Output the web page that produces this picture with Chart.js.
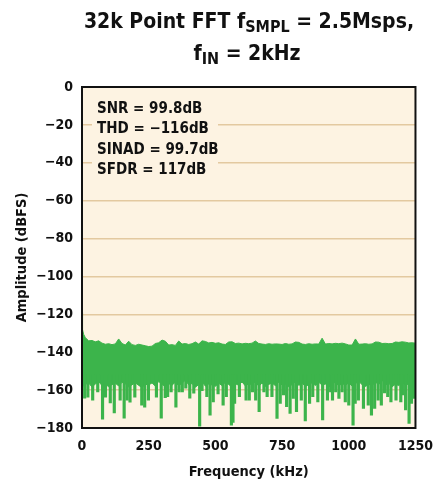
<!DOCTYPE html>
<html>
<head>
<meta charset="utf-8">
<script src="https://cdn.jsdelivr.net/npm/chart.js@4.4.1/dist/chart.umd.min.js"></script>
<style>
html,body{margin:0;padding:0;background:#fff;}
#wrap{width:444px;height:482px;position:relative;}
</style>
</head>
<body>
<div id="wrap"><canvas id="c" width="444" height="482"></canvas></div>
<script>
// ---- data ----
const titleLine1 = [{t:'32k Point FFT f'},{t:'SMPL',sub:true},{t:' = 2.5Msps,'}];
const titleLine2 = [{t:'f'},{t:'IN',sub:true},{t:' = 2kHz'}];
const xAxisTitle = 'Frequency (kHz)';
const yAxisTitle = 'Amplitude (dBFS)';
const statsLabels = ['SNR = 99.8dB', 'THD = \u2212116dB', 'SINAD = 99.7dB', 'SFDR = 117dB'];

const xTicks = [0, 250, 500, 750, 1000, 1250];
const yTicks = [0, -20, -40, -60, -80, -100, -120, -140, -160, -180];

// noise floor: frequency grid (kHz), upper envelope and lower solid edge (dBFS)
const gridFreq = [0, 1, 3, 6,
  12.5, 25, 37.5, 50, 62.5, 75, 87.5, 100, 112.5, 125,
  137.5, 150, 162.5, 175, 187.5, 200, 212.5, 225, 237.5, 250,
  262.5, 275, 287.5, 300, 312.5, 325, 337.5, 350, 362.5, 375,
  387.5, 400, 412.5, 425, 437.5, 450, 462.5, 475, 487.5, 500,
  512.5, 525, 537.5, 550, 562.5, 575, 587.5, 600, 612.5, 625,
  637.5, 650, 662.5, 675, 687.5, 700, 712.5, 725, 737.5, 750,
  762.5, 775, 787.5, 800, 812.5, 825, 837.5, 850, 862.5, 875,
  887.5, 900, 912.5, 925, 937.5, 950, 962.5, 975, 987.5, 1000,
  1012.5, 1025, 1037.5, 1050, 1062.5, 1075, 1087.5, 1100, 1112.5, 1125,
  1137.5, 1150, 1162.5, 1175, 1187.5, 1200, 1212.5, 1225, 1237.5, 1250];
const noiseTop = [-119, -124, -128, -130.5,
  -132.3, -134.0, -133.8, -134.5, -134.0, -135.2, -135.8, -135.5, -136.0, -135.6,
  -133.0, -135.4, -136.2, -134.2, -136.0, -136.4, -135.8, -136.2, -136.6, -137.0,
  -136.8, -135.4, -135.0, -133.6, -134.2, -136.2, -136.0, -136.4, -134.1, -135.7,
  -135.4, -135.9, -135.5, -134.6, -135.7, -134.0, -134.3, -135.1, -134.8, -135.3,
  -135.0, -135.7, -135.9, -134.6, -134.5, -135.4, -135.2, -135.6, -135.3, -135.5,
  -135.2, -134.1, -135.4, -135.7, -135.9, -135.5, -135.8, -135.6, -135.7, -135.9,
  -135.4, -135.8, -135.6, -134.6, -134.8, -135.7, -135.9, -135.5, -135.8, -135.6,
  -135.7, -132.6, -135.7, -135.4, -135.6, -135.3, -135.5, -135.2, -135.6, -136.2,
  -136.2, -133.0, -135.8, -135.7, -135.5, -135.8, -135.6, -134.6, -134.7, -135.4,
  -135.3, -135.5, -135.4, -134.6, -134.8, -134.5, -134.7, -135.1, -135.0, -135.2];
const noiseBottom = [-158, -158.5, -157.5, -157.8,
  -157, -156.2, -158.4, -156.8, -155.5, -157.6, -156.9, -158.2, -157.1, -156.4,
  -157.8, -155.9, -156.7, -158.3, -157.2, -156.1, -157.5, -158.6, -156.9, -157.3,
  -156.2, -157.9, -155.4, -157, -158.1, -156.6, -157.4, -155.8, -157.7, -156.3,
  -154.8, -157.2, -156.5, -158.5, -157, -155.6, -157.9, -156.8, -157.3, -158,
  -156.4, -157.6, -155.9, -157.1, -158.3, -156.7, -157.4, -155.7, -157.8, -156.6,
  -157.2, -155.5, -157.9, -156.3, -158.1, -157, -156.2, -157.7, -155.8, -157.3,
  -156.9, -158.2, -157.1, -155.6, -157.5, -156.4, -158, -157.2, -156.1, -157.6,
  -155.9, -157.3, -156.8, -158.4, -157, -155.7, -157.8, -156.5, -157.4, -156.2,
  -157.9, -156.6, -155.3, -157.2, -158.1, -156.9, -157.5, -155.8, -157.1, -154.6,
  -157.3, -156.4, -158.2, -156.9, -157.6, -155.9, -157.4, -156.7, -158, -157.2];

// downward noise spikes: frequency (kHz) and tip level (dBFS)
const spikeFreq = [10, 22, 40, 59, 77, 88, 106, 121, 143, 158, 169, 180, 198, 224, 235, 249,
  279, 297, 312, 321, 334, 352, 364, 376, 389, 404, 419, 441, 450, 468, 480, 492, 510,
  529, 541, 560, 566, 572, 590, 615, 627, 639, 651, 664, 682, 694, 712, 731, 743, 755,
  767, 780, 792, 804, 822, 837, 853, 865, 884, 902, 920, 932, 939, 951, 963, 975, 987,
  1000, 1016, 1024, 1036, 1055, 1073, 1085, 1097, 1110, 1122, 1134, 1146, 1158, 1177,
  1195, 1201, 1213, 1226, 1235, 1244];
const spikeLevel = [-164.2, -163.7, -165.3, -161, -175.3, -163.7, -166.8, -172, -165.3, -174.8, -165.3, -166.3, -163.7, -167.9, -169, -165.3,
  -163.7, -174.8, -164, -163.5, -160.9, -169, -160.9, -160.9, -159, -164.2, -161.6, -179, -160.3, -163.5, -173.2, -166.2, -162,
  -167.9, -163.5, -178.5, -177, -167, -163.5, -165.3, -165.3, -160.9, -165.3, -171.4, -160.9, -163.5, -163.5, -175, -167, -162.6,
  -168.8, -172.3, -164.4, -171.4, -165.3, -176.2, -167, -163.5, -166.2, -175.8, -165.3, -160.9, -165.3, -160.9, -164.4, -160.9, -166.2,
  -167.9, -178.5, -167, -165.3, -169.6, -167.9, -173.2, -169.6, -165.3, -167.9, -161.5, -163.5, -166.2, -165.3,
  -166.2, -162.6, -170.5, -177.6, -167, -164.4];
const spikeStart = -152;

// ---- styling ----
const GREEN = '#3cb44b';
const CREAM = '#fdf3e2';
const GRID = '#e3c9a0';
const COND = '"DejaVu Sans Condensed", "DejaVu Sans", sans-serif';

const decor = {
  id: 'decor',
  beforeDraw(chart) {
    const {ctx, chartArea: a} = chart;
    ctx.save();
    ctx.fillStyle = CREAM;
    ctx.fillRect(a.left, a.top, a.right - a.left, a.bottom - a.top);
    ctx.restore();
  },
  beforeDatasetsDraw(chart) {
    const {ctx} = chart;
    ctx.save();
    ctx.fillStyle = CREAM;
    ctx.fillRect(92, 94, 126, 86);
    ctx.fillStyle = '#111';
    ctx.font = 'bold 15px ' + COND;
    ctx.textBaseline = 'alphabetic';
    ctx.textAlign = 'left';
    const base = [112.5, 133, 153.5, 174];
    statsLabels.forEach((s, i) => ctx.fillText(s, 97, base[i]));
    ctx.restore();
  },
  afterDraw(chart) {
    const {ctx, chartArea: a} = chart;
    ctx.save();
    ctx.strokeStyle = '#111';
    ctx.lineWidth = 2;
    ctx.strokeRect(a.left, a.top, a.right - a.left, a.bottom - a.top);
    // title with subscripts
    ctx.fillStyle = '#111';
    ctx.textBaseline = 'alphabetic';
    ctx.textAlign = 'left';
    const mainFont = 'bold 21px ' + COND;
    const subFont = 'bold 16px ' + COND;
    function line(parts, cx, base, subBase) {
      let w = 0;
      parts.forEach(p => { ctx.font = p.sub ? subFont : mainFont; w += ctx.measureText(p.t).width; });
      let x = cx - w / 2;
      parts.forEach(p => {
        ctx.font = p.sub ? subFont : mainFont;
        ctx.fillText(p.t, x, p.sub ? subBase : base);
        x += ctx.measureText(p.t).width;
      });
    }
    line(titleLine1, 249, 27.5, 32);
    line(titleLine2, 247, 60, 63.5);
    ctx.restore();
  }
};

const ds = [
  {
    type: 'line',
    data: gridFreq.map((f, i) => ({x: f, y: noiseTop[i]})),
    borderColor: GREEN, backgroundColor: GREEN, borderWidth: 1,
    pointRadius: 0, tension: 0, fill: '+1', order: 2
  },
  {
    type: 'line',
    data: gridFreq.map((f, i) => ({x: f, y: noiseBottom[i]})),
    borderColor: GREEN, backgroundColor: GREEN, borderWidth: 1,
    pointRadius: 0, tension: 0, fill: false, order: 2
  },
  {
    type: 'bar',
    data: spikeFreq.map((f, i) => ({x: f, y: [spikeStart, spikeLevel[i]]})),
    backgroundColor: GREEN, borderWidth: 0, barThickness: 2.5, grouped: false, order: 1
  }
];

new Chart(document.getElementById('c'), {
  type: 'line',
  data: {datasets: ds},
  plugins: [decor],
  options: {
    responsive: false,
    animation: false,
    events: [],
    layout: {padding: {top: 87, right: 21, left: 0, bottom: 0}},
    plugins: {legend: {display: false}, tooltip: {enabled: false}, title: {display: false}},
    scales: {
      x: {
        type: 'linear', min: 0, max: 1250, offset: false,
        afterFit(s) { s.height = 54; },
        afterBuildTicks(s) { s.ticks = xTicks.map(v => ({value: v})); },
        grid: {display: false, drawTicks: false},
        border: {display: false},
        ticks: {color: '#111', padding: 11, maxRotation: 0, autoSkip: false,
          callback: v => String(v),
          font: {family: COND, size: 14, weight: 'bold', lineHeight: 1}},
        title: {display: true, text: xAxisTitle, color: '#111',
          font: {family: COND, size: 14.5, weight: 'bold', lineHeight: 1}, padding: {top: 0, bottom: 3}}
      },
      y: {
        type: 'linear', min: -180, max: 0,
        afterFit(s) { s.width = 82; },
        afterBuildTicks(s) { s.ticks = yTicks.map(v => ({value: v})); },
        grid: {color: GRID, lineWidth: 1.5, drawTicks: false},
        border: {display: false},
        ticks: {color: '#111', padding: 9,
          callback: v => (v < 0 ? '\u2212' + Math.abs(v) : String(v)),
          font: {family: COND, size: 14, weight: 'bold', lineHeight: 1}},
        title: {display: true, text: yAxisTitle, color: '#111',
          font: {family: COND, size: 14.5, weight: 'bold', lineHeight: 1}, padding: {top: 14.5, bottom: 0}}
      }
    }
  }
});
</script>
</body>
</html>
